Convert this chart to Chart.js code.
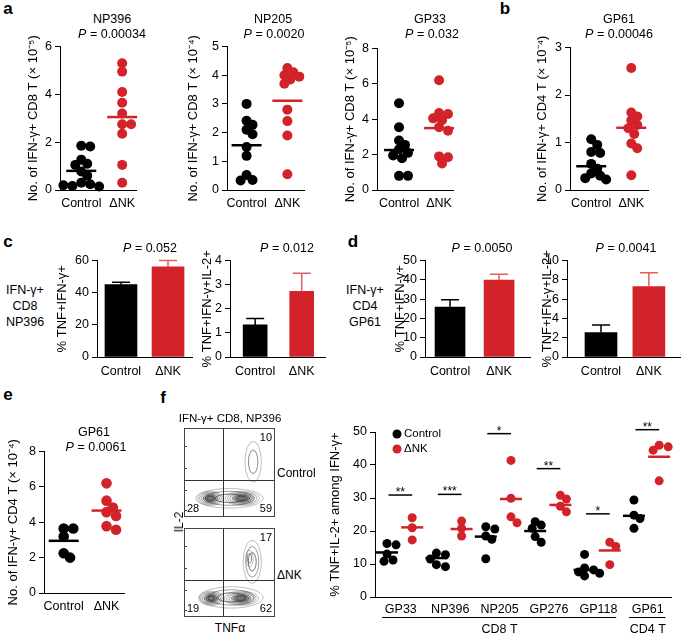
<!DOCTYPE html>
<html>
<head>
<meta charset="utf-8">
<script src="https://cdn.jsdelivr.net/npm/chart.js@4.4.1/dist/chart.umd.min.js"></script>
<style>
body { margin: 0; background: #fff; font-family: "Liberation Sans", Arial, sans-serif; }
#fig { position: relative; width: 685px; height: 642px; overflow: hidden; }
canvas { position: absolute; }
.t { position: absolute; transform: translate(-50%, -50%); white-space: nowrap; font-size: 12.5px; color: #000; text-align: center; }
.l { position: absolute; transform: translate(0, -50%); white-space: nowrap; font-size: 12px; color: #000; }
.lt { position: absolute; transform: translate(-50%, -50%); font-size: 17px; font-weight: bold; }
</style>
</head>
<body>
<div id="fig"></div>
<script>
// ---- data ----
const groups = ["Control", "\u0394NK"];

// a: NP396, NP205, GP33 (CD8), b: GP61 (CD4)
const np396Ctrl = [1.85, 1.82, 1.27, 1.1, 1.05, 0.77, 0.6, 0.3, 0.24, 0.17, 0.15, 0.2];
const np396Dnk = [5.3, 4.95, 4.1, 3.65, 3.2, 2.75, 2.75, 2.35, 1.05, 0.3];
const np396Lines = [0.8, 3.05];
const np205Ctrl = [3.0, 2.41, 2.27, 2.1, 1.94, 1.5, 1.19, 0.52, 0.35, 0.33];
const np205Dnk = [4.25, 4.1, 4.0, 3.95, 3.85, 3.7, 2.8, 2.4, 1.9, 0.55];
const np205Lines = [1.56, 3.11];
const gp33Ctrl = [4.9, 3.55, 2.8, 2.55, 2.3, 2.1, 1.95, 1.8, 0.8, 0.8];
const gp33Dnk = [6.2, 4.35, 4.3, 4.05, 3.95, 3.55, 3.35, 1.9, 1.85, 1.5];
const gp33Lines = [2.26, 3.5];
const gp61Ctrl = [1.07, 0.95, 0.8, 0.78, 0.55, 0.45, 0.35, 0.3, 0.25, 0.22];
const gp61Dnk = [2.57, 1.63, 1.55, 1.47, 1.37, 1.3, 1.18, 0.98, 0.88, 0.31];
const gp61Lines = [0.5, 1.31];

// c / d: bar means and SEM
const cDoubleMean = [45, 56], cDoubleSem = [1.5, 4];
const cTripleMean = [1.33, 2.72], cTripleSem = [0.27, 0.75];
const dDoubleMean = [25.9, 39.8], dDoubleSem = [3.7, 3.1];
const dTripleMean = [2.54, 7.3], dTripleSem = [0.77, 1.43];

// e: GP61 CD4
const eCtrl = [3.65, 3.65, 3.2, 2.25, 2.0];
const eDnk = [6.2, 5.22, 4.83, 4.57, 4.36, 3.78, 3.58];
const eLines = [2.95, 4.66];

// f: flow quadrants [IL-2- TNF-, IL-2- TNF+, IL-2+ TNF+]
const quadCtrl = [28, 59, 10];
const quadDnk = [19, 62, 17];
const contourCtrl = [
    { x: 50, y: 21, rx: 37, ry: 11, n: 3 },
    { x: 29, y: 21, rx: 14, ry: 8, n: 6 },
    { x: 64, y: 21, rx: 19, ry: 8, n: 6 },
    { x: 76, y: 62, rx: 9, ry: 23, n: 2 }
];
const contourDnk = [
    { x: 52, y: 22, rx: 35, ry: 12, n: 3 },
    { x: 30, y: 21, rx: 14, ry: 8, n: 6 },
    { x: 63, y: 21, rx: 19, ry: 8, n: 6 },
    { x: 75, y: 62, rx: 10, ry: 24, n: 3 },
    { x: 72, y: 66, rx: 4, ry: 9, n: 2 }
];

// f right: % TNF+IL-2+ among IFN-g+
const epitopes = ["GP33", "NP396", "NP205", "GP276", "GP118", "GP61"];
const cellTypes = ["CD8 T", "CD8 T", "CD8 T", "CD8 T", "CD8 T", "CD4 T"];
const fCtrl = [
    [16.2, 15.8, 13.0, 11.2, 10.8],
    [13.3, 12.8, 11.5, 9.8, 9.2],
    [21.3, 20.6, 18.5, 17.5, 11.6],
    [22.8, 21.8, 20.8, 18.3, 16.6],
    [12.9, 8.8, 8.2, 7.6, 7.2, 6.4],
    [29.4, 24.8, 23.8, 20.8]
];
const fDnk = [
    [24.0, 21.0, 17.3],
    [23.0, 20.8, 18.5],
    [41.4, 29.9, 24.3, 22.5],
    [30.8, 29.7, 27.5, 25.8],
    [16.6, 15.3, 9.8],
    [46.0, 45.5, 44.5, 35.2]
];
const fCtrlLine = [13.5, 11.8, 18.3, 20.0, 8.2, 24.6];
const fDnkLine = [21.1, 20.6, 29.7, 27.9, 14.1, 42.5];
const sigY = [30.9, 31.1, 49.5, 38.9, 25.2, 50.7];
const sigStars = ["**", "***", "*", "**", "*", "**"];

// ---- drawing ----
const BLACK = "#000000";
const RED = "#d2232a";
const RED_ERR = "#e06060";
Chart.defaults.font.family = "'Liberation Sans', Arial, sans-serif";
Chart.defaults.color = "#000";

const fig = document.getElementById("fig");

function addCanvas(left, top, w, h) {
    const c = document.createElement("canvas");
    c.width = w;
    c.height = h;
    c.style.left = left + "px";
    c.style.top = top + "px";
    c.style.width = w + "px";
    c.style.height = h + "px";
    fig.appendChild(c);
    return c;
}

function txt(html, x, y, cls, extra) {
    const d = document.createElement("div");
    d.className = cls || "t";
    d.innerHTML = html;
    d.style.left = x + "px";
    d.style.top = y + "px";
    if (extra) d.style.cssText += extra;
    fig.appendChild(d);
}

// simple beeswarm so overlapping dots spread sideways
function swarm(vals, cx, pxX, pxY, r, ov) {
    const placed = [];
    return vals.map(v => {
        let off = 0;
        for (let k = 0; k < 40; k++) {
            off = (k % 2 ? 1 : -1) * Math.ceil(k / 2) * r * 0.7;
            if (placed.every(p => Math.hypot(p.o - off, (p.v - v) * pxY) >= 2 * r * ov)) break;
        }
        placed.push({ o: off, v: v });
        return { x: cx + off / pxX, y: v };
    });
}

function scalesFor(pos, yMax, yStep, yTitle, xLabels, hx, xPad) {
    return {
        x: {
            type: "linear",
            offset: false,
            min: pos.xr[0],
            max: pos.xr[1],
            afterBuildTicks: s => { s.ticks = xLabels.map((_, i) => ({ value: i + 1 })); },
            ticks: {
                callback: v => xLabels[v - 1],
                font: { size: 12.5 },
                padding: xPad,
                maxRotation: 0,
                autoSkip: false
            },
            grid: { display: false, drawTicks: false, tickLength: 0, offset: false },
            border: { color: "#000", width: 1 },
            afterFit: s => { s.height = hx; }
        },
        y: {
            min: 0,
            max: yMax,
            ticks: { stepSize: yStep, font: { size: 12.5 }, padding: 3 },
            grid: { drawOnChartArea: false, drawTicks: true, tickLength: 5, color: "#000" },
            border: { color: "#000", width: 1 },
            title: { display: true, text: yTitle, font: { size: 13 }, padding: 0 },
            afterFit: s => { s.width = pos.wy; }
        }
    };
}

function baseOptions(pos, pt, pr, scales) {
    return {
        responsive: false,
        animation: false,
        events: [],
        layout: { padding: { top: pt, right: pr, left: 0, bottom: 0 } },
        plugins: { legend: { display: false }, tooltip: { enabled: false } },
        scales: scales
    };
}

function dotChart(pos, yMax, yStep, yTitle, ctrl, dnk, lines, r) {
    const pt = 8, pr = 4, hx = 24;
    const cv = addCanvas(pos.L - pos.wy, pos.T - pt, pos.wy + pos.R - pos.L + pr, pt + pos.B - pos.T + hx);
    const pxX = (pos.R - pos.L) / (pos.xr[1] - pos.xr[0]);
    const pxY = (pos.B - pos.T) / yMax;
    new Chart(cv, {
        type: "scatter",
        data: {
            datasets: [
                {
                    data: lines.map((v, i) => ({ x: i + 1, y: v })),
                    pointStyle: "line",
                    pointRadius: 15,
                    pointBorderColor: [BLACK, RED],
                    pointBorderWidth: 2.5,
                    clip: false,
                    order: 0
                },
                {
                    data: swarm(ctrl, 1, pxX, pxY, r, 0.8),
                    pointBackgroundColor: BLACK,
                    pointBorderWidth: 0,
                    pointRadius: r,
                    clip: false,
                    order: 1
                },
                {
                    data: swarm(dnk, 2, pxX, pxY, r, 0.8),
                    pointBackgroundColor: RED,
                    pointBorderWidth: 0,
                    pointRadius: r,
                    clip: false,
                    order: 2
                }
            ]
        },
        options: baseOptions(pos, pt, pr, scalesFor(pos, yMax, yStep, yTitle, groups, hx, 6))
    });
}

const errorBars = {
    id: "errorBars",
    afterDatasetsDraw(chart) {
        const ds = chart.data.datasets[0];
        const meta = chart.getDatasetMeta(0);
        const ys = chart.scales.y;
        const ctx = chart.ctx;
        meta.data.forEach((bar, i) => {
            const top = ys.getPixelForValue(ds.data[i].y + ds.sem[i]);
            ctx.save();
            ctx.strokeStyle = i === 0 ? BLACK : RED_ERR;
            ctx.lineWidth = 1.5;
            ctx.beginPath();
            ctx.moveTo(bar.x, bar.y);
            ctx.lineTo(bar.x, top);
            ctx.moveTo(bar.x - 9, top);
            ctx.lineTo(bar.x + 9, top);
            ctx.stroke();
            ctx.restore();
        });
    }
};

function barChart(pos, yMax, yStep, yTitle, means, sems, barW) {
    const pt = 8, pr = 4, hx = 24;
    const cv = addCanvas(pos.L - pos.wy, pos.T - pt, pos.wy + pos.R - pos.L + pr, pt + pos.B - pos.T + hx);
    new Chart(cv, {
        type: "bar",
        data: {
            datasets: [{
                data: means.map((v, i) => ({ x: i + 1, y: v })),
                sem: sems,
                backgroundColor: [BLACK, RED],
                barThickness: barW
            }]
        },
        options: baseOptions(pos, pt, pr, scalesFor(pos, yMax, yStep, yTitle, groups, hx, 7)),
        plugins: [errorBars]
    });
}

function flowPlugin(quads, contours) {
    return {
        id: "flow",
        afterDraw(chart) {
            const { ctx, chartArea: a, scales: { x, y } } = chart;
            const pxX = (a.right - a.left) / 100, pxY = (a.bottom - a.top) / 100;
            ctx.save();
            contours.forEach(c => {
                for (let k = 0; k < c.n; k++) {
                    const s = 1 - k / c.n * 0.85;
                    ctx.strokeStyle = "rgba(50,50,50," + (0.35 + 0.55 * k / c.n) + ")";
                    ctx.lineWidth = 0.9;
                    ctx.beginPath();
                    ctx.ellipse(x.getPixelForValue(c.x), y.getPixelForValue(c.y), c.rx * s * pxX, c.ry * s * pxY, 0, 0, Math.PI * 2);
                    if (c.n > 4 && k >= c.n - 3) {
                        ctx.fillStyle = "rgba(70,70,70,0.35)";
                        ctx.fill();
                    }
                    ctx.stroke();
                }
            });
            ctx.strokeStyle = "#333";
            ctx.lineWidth = 1;
            ctx.beginPath();
            const gx = Math.round(x.getPixelForValue(43)) + 0.5;
            const gy = Math.round(y.getPixelForValue(42)) + 0.5;
            ctx.moveTo(gx, a.top); ctx.lineTo(gx, a.bottom);
            ctx.moveTo(a.left, gy); ctx.lineTo(a.right, gy);
            ctx.stroke();
            ctx.strokeStyle = "#444";
            ctx.strokeRect(a.left + 0.5, a.top + 0.5, a.right - a.left - 1, a.bottom - a.top - 1);
            // log-axis tick marks on the left edge
            ctx.beginPath();
            [8, 30, 55, 80].forEach(v => {
                const yy = Math.round(y.getPixelForValue(v)) + 0.5;
                ctx.moveTo(a.left, yy); ctx.lineTo(a.left + 3, yy);
            });
            ctx.stroke();
            ctx.fillStyle = "#000";
            ctx.font = "11px 'Liberation Sans', Arial, sans-serif";
            ctx.textBaseline = "middle";
            ctx.textAlign = "left";
            ctx.fillText(quads[0], a.left + 3, a.bottom - 8);
            ctx.textAlign = "right";
            ctx.fillText(quads[1], a.right - 3, a.bottom - 8);
            ctx.fillText(quads[2], a.right - 3, a.top + 10);
            ctx.restore();
        }
    };
}

function flowChart(pos, quads, contours) {
    const cv = addCanvas(pos.L - 1, pos.T - 1, pos.R - pos.L + 2, pos.B - pos.T + 2);
    new Chart(cv, {
        type: "scatter",
        data: { datasets: [] },
        options: {
            responsive: false,
            animation: false,
            events: [],
            layout: { padding: 1 },
            plugins: { legend: { display: false }, tooltip: { enabled: false } },
            scales: {
                x: { display: false, min: 0, max: 100 },
                y: { display: false, min: 0, max: 100 }
            }
        },
        plugins: [flowPlugin(quads, contours)]
    });
}

const fDecor = {
    id: "fDecor",
    afterDraw(chart) {
        const { ctx, chartArea: a, scales: { x, y } } = chart;
        ctx.save();
        ctx.fillStyle = "#000";
        ctx.strokeStyle = "#000";
        ctx.lineWidth = 1.5;
        ctx.font = "12px 'Liberation Sans', Arial, sans-serif";
        ctx.textAlign = "center";
        ctx.textBaseline = "alphabetic";
        sigY.forEach((v, i) => {
            const yp = y.getPixelForValue(v);
            const x0 = x.getPixelForValue(i + 1 - 0.25), x1 = x.getPixelForValue(i + 1 + 0.23);
            ctx.beginPath();
            ctx.moveTo(x0, yp);
            ctx.lineTo(x1, yp);
            ctx.stroke();
            ctx.fillText(sigStars[i], (x0 + x1) / 2, yp + 1);
        });
        // cell type brackets under the epitope labels
        ctx.lineWidth = 1;
        ctx.font = "12.5px 'Liberation Sans', Arial, sans-serif";
        ctx.textBaseline = "middle";
        const types = [...new Set(cellTypes)];
        types.forEach(t => {
            const idx = cellTypes.map((c, i) => c === t ? i + 1 : null).filter(v => v !== null);
            const x0 = x.getPixelForValue(idx[0] - 0.38);
            const x1 = Math.min(x.getPixelForValue(idx[idx.length - 1] + 0.36), chart.width);
            const yb = Math.round(a.bottom + 20) + 0.5;
            ctx.beginPath();
            ctx.moveTo(x0, yb);
            ctx.lineTo(x1, yb);
            ctx.stroke();
            const xc = idx.length > 1 ? (x.getPixelForValue(idx[0]) + x.getPixelForValue(idx[idx.length - 1])) / 2 : x.getPixelForValue(idx[0]);
            ctx.fillText(t, xc, yb + 12);
        });
        // legend
        ctx.font = "11.5px 'Liberation Sans', Arial, sans-serif";
        ctx.textAlign = "left";
        [BLACK, RED].forEach((col, i) => {
            const lx = a.left + 22, ly = a.top + 2 + i * 15;
            ctx.fillStyle = col;
            ctx.beginPath();
            ctx.arc(lx, ly, 4.5, 0, Math.PI * 2);
            ctx.fill();
            ctx.fillStyle = "#000";
            ctx.fillText(groups[i], lx + 7, ly);
        });
        ctx.restore();
    }
};

function epitopeChart(pos) {
    const pt = 24, pr = 0, hx = 44, r = 4.5;
    const cv = addCanvas(pos.L - pos.wy, pos.T - pt, pos.wy + pos.R - pos.L + pr, pt + pos.B - pos.T + hx);
    const pxX = (pos.R - pos.L) / (pos.xr[1] - pos.xr[0]);
    const pxY = (pos.B - pos.T) / 50;
    const ctrlPts = [], dnkPts = [];
    fCtrl.forEach((vals, i) => ctrlPts.push(...swarm(vals, i + 1 - 0.28, pxX, pxY, r, 0.75)));
    fDnk.forEach((vals, i) => dnkPts.push(...swarm(vals, i + 1 + 0.23, pxX, pxY, r, 0.75)));
    new Chart(cv, {
        type: "scatter",
        data: {
            datasets: [
                {
                    data: fCtrlLine.map((v, i) => ({ x: i + 1 - 0.28, y: v })),
                    pointStyle: "line", pointRadius: 11, pointBorderColor: BLACK, pointBorderWidth: 2.5, clip: false, order: 0
                },
                {
                    data: fDnkLine.map((v, i) => ({ x: i + 1 + 0.23, y: v })),
                    pointStyle: "line", pointRadius: 11, pointBorderColor: RED, pointBorderWidth: 2.5, clip: false, order: 1
                },
                { data: ctrlPts, pointBackgroundColor: BLACK, pointBorderWidth: 0, pointRadius: r, clip: false, order: 2 },
                { data: dnkPts, pointBackgroundColor: RED, pointBorderWidth: 0, pointRadius: r, clip: false, order: 3 }
            ]
        },
        options: baseOptions(pos, pt, pr, scalesFor(pos, 50, 10, "% TNF+IL-2+ among IFN-\u03b3+", epitopes, hx, 5)),
        plugins: [fDecor]
    });
}

// panel a / b
dotChart({ L: 60, T: 37, R: 150, B: 190, wy: 34, xr: [0.48, 2.35] }, 6, 2,
    "No. of IFN-\u03b3+ CD8 T (\u00d7 10\u207b\u2075)", np396Ctrl, np396Dnk, np396Lines, 5);
dotChart({ L: 227, T: 37, R: 318, B: 190, wy: 41, xr: [0.52, 2.42] }, 5, 1,
    "No. of IFN-\u03b3+ CD8 T (\u00d7 10\u207b\u2074)", np205Ctrl, np205Dnk, np205Lines, 5);
dotChart({ L: 377, T: 39, R: 467, B: 190, wy: 34, xr: [0.45, 2.36] }, 8, 2,
    "No. of IFN-\u03b3+ CD8 T (\u00d7 10\u207b\u2075)", gp33Ctrl, gp33Dnk, gp33Lines, 5);
dotChart({ L: 570, T: 38, R: 662, B: 190, wy: 35, xr: [0.47, 2.43] }, 3, 1,
    "No. of IFN-\u03b3+ CD4 T (\u00d7 10\u207b\u2074)", gp61Ctrl, gp61Dnk, gp61Lines, 5);

// panel c / d
barChart({ L: 97, T: 258, R: 192, B: 357, wy: 42, xr: [0.49, 2.51] }, 60, 20, "% TNF+IFN-\u03b3+", cDoubleMean, cDoubleSem, 32);
barChart({ L: 230, T: 258, R: 325, B: 357, wy: 30, xr: [0.46, 2.5] }, 4, 1, "% TNF+IFN-\u03b3+IL-2+", cTripleMean, cTripleSem, 24);
barChart({ L: 425, T: 258, R: 530, B: 357, wy: 32, xr: [0.49, 2.63] }, 50, 10, "% TNF+IFN-\u03b3+", dDoubleMean, dDoubleSem, 30);
barChart({ L: 567, T: 258, R: 680, B: 357, wy: 27, xr: [0.29, 2.65] }, 10, 2, "% TNF+IFN-\u03b3+IL-2+", dTripleMean, dTripleSem, 32);

// panel e
dotChart({ L: 44, T: 442, R: 138, B: 593, wy: 38, xr: [0.54, 2.42] }, 8, 2,
    "No. of IFN-\u03b3+ CD4 T (\u00d7 10\u207b\u2074)", eCtrl, eDnk, eLines, 5.3);

// panel f
flowChart({ L: 184, T: 428, R: 275, B: 517 }, quadCtrl, contourCtrl);
flowChart({ L: 184, T: 528, R: 275, B: 617 }, quadDnk, contourDnk);
epitopeChart({ L: 375, T: 432, R: 685, B: 597, wy: 47, xr: [0.477, 6.48] });

// text labels
txt("a", 8, 9, "lt"); txt("b", 505, 9, "lt"); txt("c", 8, 242, "lt");
txt("d", 353, 242, "lt"); txt("e", 8, 395, "lt"); txt("f", 163, 398, "lt");
txt("NP396", 112, 19); txt("<i>P</i> = 0.00034", 112, 34);
txt("NP205", 273, 19); txt("<i>P</i> = 0.0020", 274, 34);
txt("GP33", 430, 19); txt("<i>P</i> = 0.032", 432, 34);
txt("GP61", 619, 19); txt("<i>P</i> = 0.00046", 619, 34);
txt("<i>P</i> = 0.052", 150, 248); txt("<i>P</i> = 0.012", 287, 248);
txt("<i>P</i> = 0.0050", 482, 248); txt("<i>P</i> = 0.0041", 626, 248);
txt("IFN-\u03b3+<br>CD8<br>NP396", 25, 306, "t", "line-height:16px;");
txt("IFN-\u03b3+<br>CD4<br>GP61", 365, 306, "t", "line-height:16px;");
txt("GP61", 94, 432); txt("<i>P</i> = 0.0061", 96, 447);
txt("IFN-\u03b3+ CD8, NP396", 230, 418, "t", "font-size:11.5px;");
txt("Control", 277, 473, "l"); txt("\u0394NK", 277, 575, "l");
txt("TNF\u03b1", 230, 628, "t", "font-size:12px;");
txt("IL-2", 179, 522, "t", "font-size:12px;transform:translate(-50%,-50%) rotate(-90deg);");
</script>
</body>
</html>
